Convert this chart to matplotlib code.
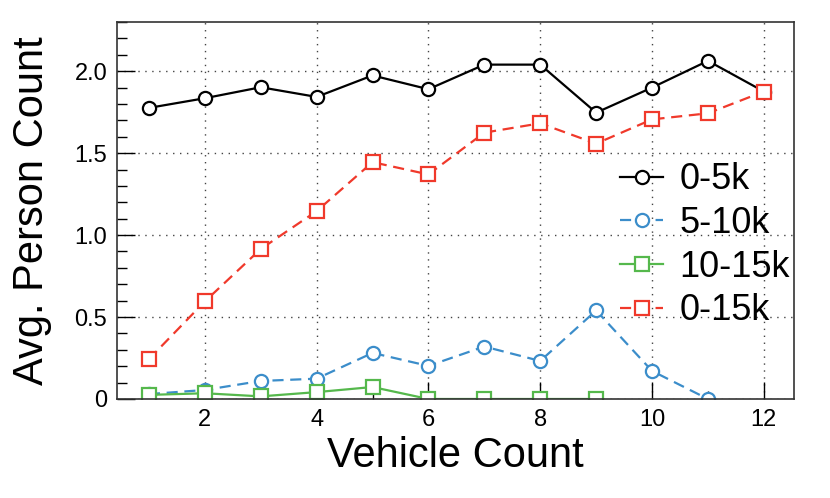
import matplotlib
matplotlib.use("Agg")
import matplotlib.pyplot as plt
from matplotlib.ticker import MultipleLocator, FuncFormatter

# data
vehicles = [1, 2, 3, 4, 5, 6, 7, 8, 9, 10, 11, 12]
avg_0_5k = [1.776, 1.835, 1.902, 1.843, 1.974, 1.89, 2.04, 2.04, 1.747, 1.90, 2.063, 1.876]
avg_5_10k = [0.03, 0.055, 0.11, 0.124, 0.281, 0.202, 0.32, 0.232, 0.54, 0.171, 0.0]
avg_10_15k = [0.025, 0.035, 0.016, 0.042, 0.073, 0.0, 0.0, 0.0, 0.0]
avg_0_15k = [0.243, 0.595, 0.915, 1.146, 1.445, 1.37, 1.625, 1.682, 1.558, 1.706, 1.743, 1.876]
labels = ["0-5k", "5-10k", "10-15k", "0-15k"]

plt.rcParams['font.family'] = ['Liberation Sans', 'DejaVu Sans']

fig = plt.figure(figsize=(8.3, 4.98), dpi=100)
ax = fig.add_axes([0.141, 0.1988, 0.8157, 0.757])

ms = 9.5
ax.plot(vehicles, avg_0_5k, '-o', color='black', lw=1.6, ms=ms, mfc='white', mew=1.6, label=labels[0])
ax.plot(vehicles[:len(avg_5_10k)], avg_5_10k, '--o', color='#3b8dca', lw=1.6, ms=ms, mfc='white', mew=1.6,
        dashes=(5, 3), label=labels[1])
ax.plot(vehicles[:len(avg_10_15k)], avg_10_15k, '-s', color='#55b84c', lw=1.6, ms=ms, mfc='white', mew=1.6,
        label=labels[2])
ax.plot(vehicles, avg_0_15k, '--s', color='#f0392b', lw=1.6, ms=ms, mfc='white', mew=1.6,
        dashes=(5, 3), label=labels[3])

ax.set_xlim(0.43, 12.54)
ax.set_ylim(0, 2.3)
ax.xaxis.set_major_locator(MultipleLocator(2))
ax.xaxis.set_minor_locator(MultipleLocator(1))
ax.yaxis.set_major_locator(MultipleLocator(0.5))
ax.yaxis.set_minor_locator(MultipleLocator(0.1))
ax.yaxis.set_major_formatter(FuncFormatter(lambda v, p: '0' if v == 0 else '%.1f' % v))

ax.tick_params(axis='x', which='major', direction='in', length=12, width=1, labelsize=17, pad=7)
ax.tick_params(axis='x', which='minor', direction='in', length=6, width=1)
ax.tick_params(axis='y', which='major', direction='in', length=13, width=1, labelsize=17, pad=7)
ax.tick_params(axis='y', which='minor', direction='in', length=7, width=1)

ax.grid(True, which='major', color='#444444', linestyle=(0, (1, 4)), linewidth=1.0)
for s in ax.spines.values():
    s.set_color('#333333')
    s.set_linewidth(1.2)

ax.set_xlabel('Vehicle Count', fontsize=30, labelpad=4)
ax.set_ylabel('Avg. Person Count', fontsize=30, labelpad=16)

ax.legend(loc='upper right', bbox_to_anchor=(0.994, 0.628), frameon=False, fontsize=26,
          handlelength=1.2, handletextpad=0.45, labelspacing=0.24, borderaxespad=0, borderpad=0)

fig.savefig('out.png', dpi=100)
